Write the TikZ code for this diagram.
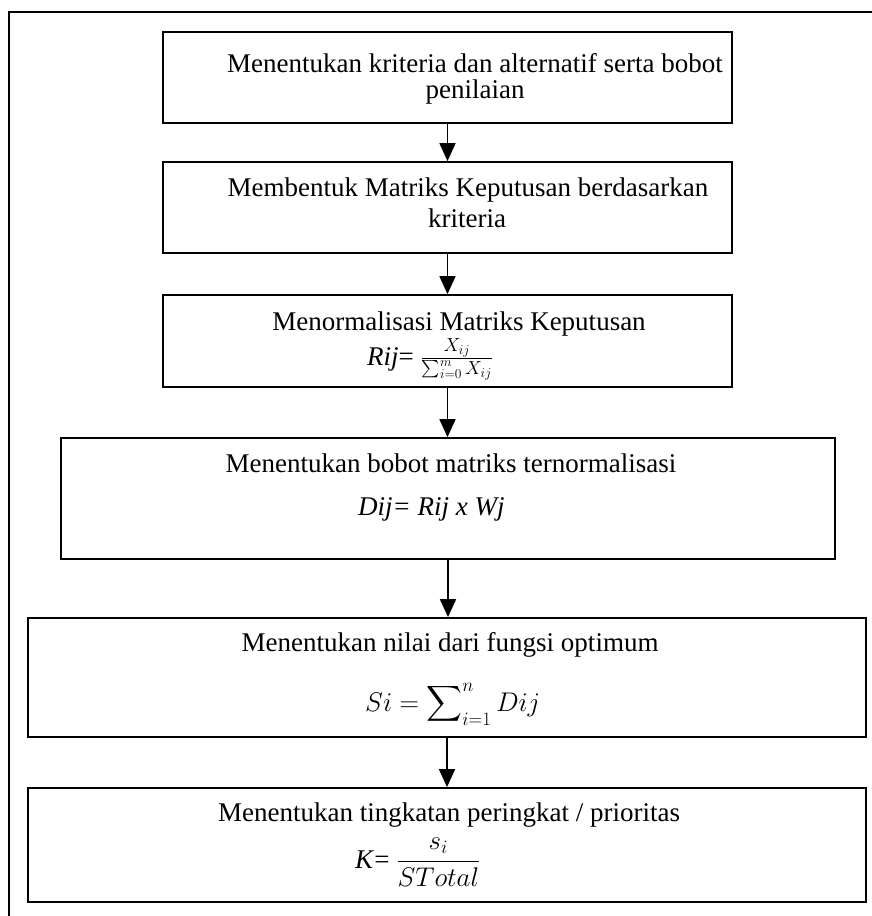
\RequirePackage{fix-cm}
\documentclass[tikz,border=0pt]{standalone}
\usepackage{exscale}
\usepackage{fontspec}
\setmainfont{Liberation Serif}
\usetikzlibrary{arrows.meta}
\begin{document}
\begin{tikzpicture}[x=1pt,y=-1pt,
	box/.style={draw,line width=1.8pt,inner sep=0pt},
	txt/.style={anchor=base,inner sep=0pt,font=\fontsize{27}{32}\selectfont},
	eq/.style={anchor=base west,inner sep=0pt,font=\fontsize{27}{32}\selectfont},
	flow/.style={line width=1.8pt,-{Triangle[width=16pt,length=18pt]}}]
\useasboundingbox (0,0) rectangle (872,916);
\draw[line width=1.8pt] (9,930) -- (9,12) -- (890,12);
\node[box,minimum width=569pt,minimum height=91pt] (b1) at (447.5,77.5) {};
\node[box,minimum width=569pt,minimum height=91pt] (b2) at (447.5,207.5) {};
\node[box,minimum width=569pt,minimum height=92pt] (b3) at (447.5,341) {};
\node[box,minimum width=774pt,minimum height=121pt] (b4) at (448,498.5) {};
\node[box,minimum width=838pt,minimum height=119pt] (b5) at (447,677.5) {};
\node[box,minimum width=838pt,minimum height=114pt] (b6) at (447,845) {};
\node[txt] (t1a) at (475,72) {Menentukan kriteria dan alternatif serta bobot};
\node[txt] (t1b) at (475,98) {penilaian};
\node[txt] (t2a) at (468,196) {Membentuk Matriks Keputusan berdasarkan};
\node[txt] (t2b) at (467,227) {kriteria};
\node[txt] (t3a) at (459,330) {Menormalisasi Matriks Keputusan};
\node[eq] (e3) at (367,365) {\textit{Rij}= $\frac{X_{ij}}{\sum_{i=0}^{m}X_{ij}}$};
\node[txt] (t4a) at (451,472) {Menentukan bobot matriks ternormalisasi};
\node[eq] (e4) at (358,515) {\textit{Dij= Rij x Wj}};
\node[txt] (t5a) at (450,651) {Menentukan nilai dari fungsi optimum};
\node[eq] (e5) at (365,711) {$\displaystyle Si=\sum\nolimits_{i=1}^{n}Dij$};
\node[txt] (t6a) at (449,821) {Menentukan tingkatan peringkat / prioritas};
\node[eq] (e6) at (355,868) {\textit{K}= $\displaystyle\frac{s_i}{STotal}$};
\draw[flow] (b1.south) -- (b2.north);
\draw[flow] (b2.south) -- (b3.north);
\draw[flow] (b3.south) -- (b3.south |- b4.north);
\draw[flow] (b4.south) -- (b4.south |- b5.north);
\draw[flow] (b5.south) -- (b5.south |- b6.north);
\end{tikzpicture}
\end{document}
